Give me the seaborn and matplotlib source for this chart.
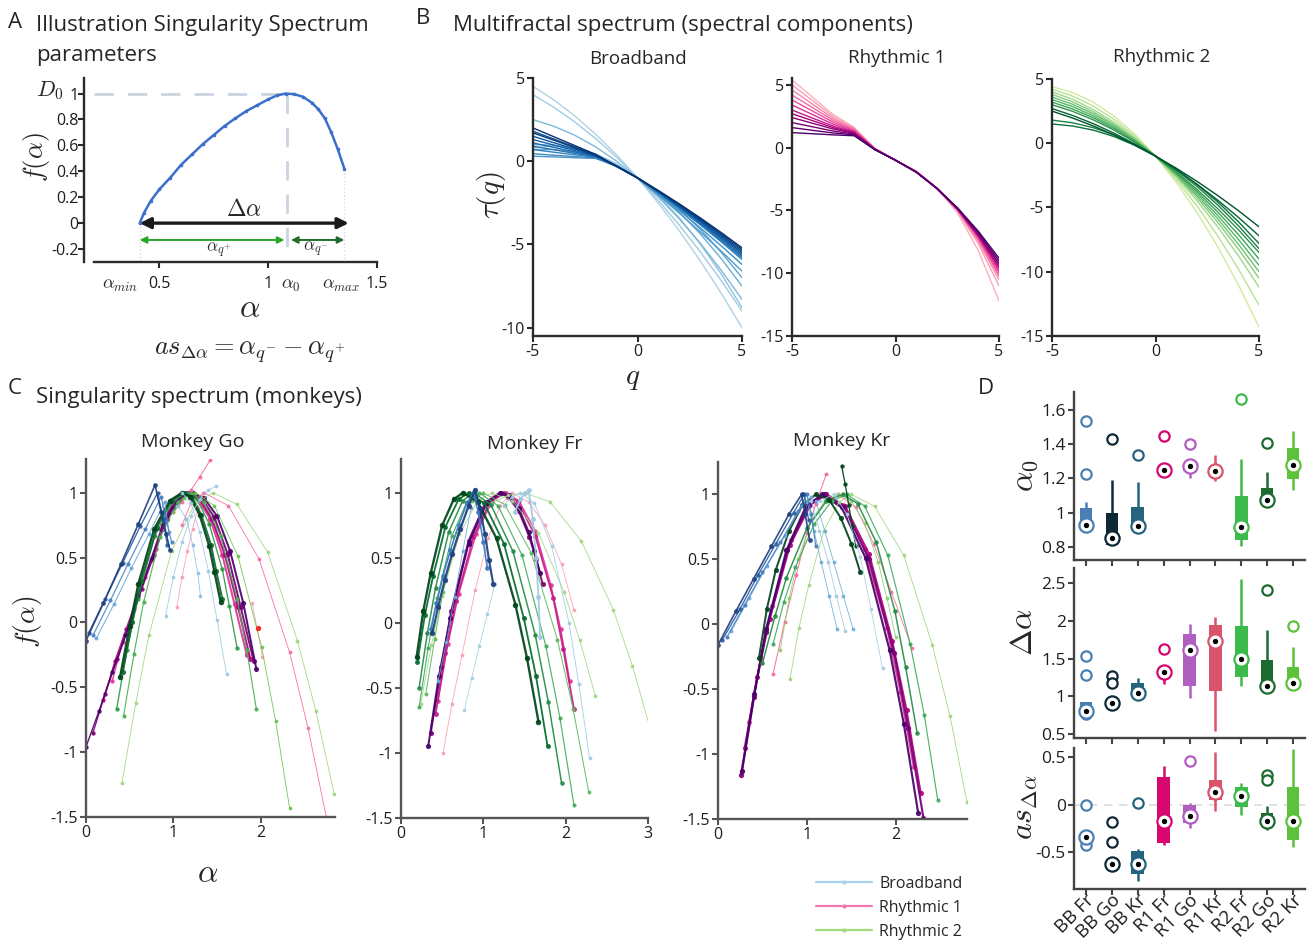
import numpy as np
import matplotlib
matplotlib.use("Agg")
import matplotlib.pyplot as plt
import matplotlib.transforms as mtransforms
import seaborn as sns
from matplotlib.lines import Line2D

# ---------------------------------------------------------------- data
# Panel A: illustrative singularity spectrum
A_ALPHA = [0.41, 0.43, 0.46, 0.50, 0.55, 0.60, 0.65, 0.70, 0.75, 0.80, 0.85, 0.90,
           0.95, 1.00, 1.04, 1.08, 1.12, 1.16, 1.20, 1.23, 1.26, 1.29, 1.32, 1.35]
A_F = [0.0, 0.08, 0.17, 0.26, 0.35, 0.45, 0.53, 0.61, 0.68, 0.75, 0.81, 0.865,
       0.91, 0.955, 0.985, 1.0, 0.995, 0.975, 0.93, 0.88, 0.81, 0.70, 0.57, 0.42]
A_ALPHA_MIN = 0.41
A_ALPHA_0 = 1.085
A_ALPHA_MAX = 1.35
A_F_MAX_END = 0.42

# Panel B: tau(q) per spectral component
Q_GRID = [-5, -4, -3, -2, -1, 0, 1, 2, 3, 4, 5]
TAU_BROADBAND = [
    [4.5, 3.68, 2.72, 1.62, 0.38, -1, -2.52, -4.18, -5.98, -7.92, -10.0],
    [4.0, 3.24, 2.36, 1.36, 0.24, -1, -2.36, -3.84, -5.44, -7.16, -9.0],
    [0.8, 0.92, 0.80, 0.44, -0.16, -1, -2.08, -3.40, -4.96, -6.76, -8.8],
    [2.5, 2.10, 1.56, 0.86, 0.0, -1, -2.16, -3.46, -4.92, -6.54, -8.3],
    [1.0, 0.96, 0.74, 0.34, -0.24, -1, -1.94, -3.06, -4.36, -5.84, -7.5],
    [0.7, 0.70, 0.54, 0.20, -0.32, -1, -1.86, -2.88, -4.08, -5.46, -7.0],
    [0.3, 0.26, 0.21, 0.17, -0.3, -1, -2.04, -3.12, -4.24, -5.40, -6.6],
    [0.45, 0.36, 0.28, 0.19, -0.3, -1, -1.96, -2.96, -4.0, -5.08, -6.2],
    [0.7, 0.54, 0.39, 0.23, -0.3, -1, -1.90, -2.84, -3.82, -4.84, -5.9],
    [0.9, 0.69, 0.47, 0.26, -0.3, -1, -1.88, -2.80, -3.76, -4.76, -5.8],
    [1.1, 0.83, 0.56, 0.29, -0.3, -1, -1.86, -2.76, -3.70, -4.68, -5.7],
    [1.3, 0.97, 0.64, 0.31, -0.3, -1, -1.84, -2.72, -3.64, -4.60, -5.6],
    [1.5, 1.11, 0.73, 0.34, -0.3, -1, -1.82, -2.68, -3.58, -4.52, -5.5],
    [1.8, 1.33, 0.86, 0.39, -0.3, -1, -1.80, -2.64, -3.52, -4.44, -5.4],
    [1.7, 1.26, 0.81, 0.37, -0.3, -1, -1.78, -2.60, -3.46, -4.36, -5.3],
    [2.0, 1.47, 0.94, 0.41, -0.3, -1, -1.76, -2.56, -3.40, -4.28, -5.2],
]
TAU_RHYTHMIC1 = [
    [5.4, 4.01, 2.63, 1.62, -0.05, -1, -1.85, -3.20, -5.20, -8.20, -12.2],
    [5.0, 3.74, 2.48, 1.56, -0.06, -1, -1.88, -3.22, -5.06, -7.66, -11.0],
    [4.6, 3.46, 2.32, 1.49, -0.07, -1, -1.90, -3.23, -5.00, -7.43, -10.5],
    [4.2, 3.18, 2.17, 1.43, -0.08, -1, -1.91, -3.23, -4.96, -7.29, -10.2],
    [3.8, 2.91, 2.02, 1.36, -0.09, -1, -1.92, -3.23, -4.94, -7.19, -10.0],
    [3.4, 2.63, 1.86, 1.30, -0.10, -1, -1.92, -3.24, -4.92, -7.10, -9.8],
    [3.0, 2.35, 1.71, 1.24, -0.11, -1, -1.93, -3.24, -4.90, -7.02, -9.6],
    [2.7, 2.15, 1.59, 1.19, -0.12, -1, -1.93, -3.24, -4.88, -6.98, -9.5],
    [2.4, 1.94, 1.48, 1.14, -0.13, -1, -1.94, -3.24, -4.86, -6.88, -9.3],
    [2.0, 1.66, 1.32, 1.08, -0.14, -1, -1.94, -3.24, -4.85, -6.84, -9.2],
    [1.6, 1.38, 1.17, 1.02, -0.15, -1, -1.94, -3.25, -4.82, -6.74, -9.0],
    [1.2, 1.11, 1.02, 0.95, -0.16, -1, -1.95, -3.25, -4.80, -6.65, -8.8],
]
TAU_RHYTHMIC2 = [
    [4.4, 3.95, 3.19, 2.11, 0.71, -1, -3.03, -5.37, -8.03, -11.01, -14.3],
    [4.2, 3.67, 2.89, 1.85, 0.55, -1, -2.81, -4.87, -7.19, -9.77, -12.6],
    [4.0, 3.42, 2.62, 1.62, 0.42, -1, -2.62, -4.46, -6.50, -8.74, -11.2],
    [3.8, 3.22, 2.44, 1.48, 0.34, -1, -2.52, -4.24, -6.14, -8.22, -10.5],
    [3.6, 3.03, 2.29, 1.37, 0.27, -1, -2.45, -4.07, -5.87, -7.85, -10.0],
    [3.4, 2.85, 2.13, 1.25, 0.21, -1, -2.37, -3.91, -5.61, -7.47, -9.5],
    [3.2, 2.66, 1.98, 1.14, 0.14, -1, -2.30, -3.74, -5.34, -7.10, -9.0],
    [3.0, 2.48, 1.82, 1.02, 0.08, -1, -2.22, -3.58, -5.08, -6.72, -8.5],
    [1.8, 1.59, 1.21, 0.65, -0.09, -1, -2.09, -3.35, -4.79, -6.41, -8.2],
    [1.5, 1.34, 1.02, 0.52, -0.16, -1, -2.02, -3.20, -4.56, -6.10, -7.8],
    [2.7, 2.16, 1.52, 0.78, -0.06, -1, -2.04, -3.18, -4.42, -5.76, -7.2],
    [2.5, 1.96, 1.34, 0.64, -0.14, -1, -1.94, -2.96, -4.06, -5.24, -6.5],
]

# Panel C: singularity spectra, one list of curves per monkey
GO_ALPHA = [
    [0.86, 0.93, 1.0, 1.08, 1.15, 1.28, 1.42, 1.56, 1.70, 1.84],
    [0.88, 0.95, 1.03, 1.10, 1.17, 1.30, 1.44, 1.59, 1.74, 1.88],
    [0.90, 0.97, 1.05, 1.12, 1.19, 1.32, 1.47, 1.62, 1.77, 1.92],
    [0.93, 1.0, 1.08, 1.15, 1.22, 1.35, 1.50, 1.65, 1.80, 1.95],
    [0.3, 0.42, 0.55, 0.68, 0.80, 0.92],
    [0.2, 0.33, 0.46, 0.60, 0.74, 0.88],
    [0.08, 0.22, 0.36, 0.50, 0.64, 0.78, 0.92],
    [0.0, 0.15, 0.30, 0.45, 0.60, 0.75, 0.90],
    [1.0, 1.1, 1.2, 1.3, 1.42],
    [1.04, 1.10, 1.16, 1.22, 1.28, 1.34],
    [1.1, 1.2, 1.35, 1.63, 1.98, 2.33, 2.54, 2.75],
    [1.9, 1.96, 2.02],
    [0.41, 0.57, 0.72, 0.98, 1.24, 1.45, 1.73, 2.08, 2.42, 2.63, 2.84],
    [1.0, 1.12, 1.25, 1.47, 1.74, 2.01, 2.17, 2.33],
    [0.43, 0.55, 0.66, 0.85, 1.05, 1.20, 1.35, 1.54, 1.73, 1.84, 1.95],
    [0.35, 0.47, 0.59, 0.79, 0.99, 1.15, 1.27, 1.41, 1.56, 1.64, 1.73],
    [0.42, 0.53, 0.63, 0.81, 0.98, 1.12, 1.21, 1.32, 1.43, 1.49, 1.56],
    [0.39, 0.50, 0.60, 0.78, 0.96, 1.10, 1.19, 1.30, 1.41, 1.47, 1.54],
    [0.91, 1.0, 1.1, 1.2, 1.3, 1.4, 1.49],
    [1.1, 1.2, 1.3, 1.4, 1.5, 1.61],
    [1.05, 1.15, 1.22, 1.28, 1.31],
    [0.12, 0.32, 0.52, 0.72, 0.90, 0.95],
    [0.08, 0.28, 0.48, 0.68, 0.86, 0.92, 0.98],
    [0.03, 0.22, 0.42, 0.62, 0.82, 0.88, 0.93],
    [0.0, 0.2, 0.4, 0.6, 0.79, 0.86, 0.92, 0.96],
]
GO_F = [
    [0.72, 0.83, 0.92, 0.98, 1.0, 0.95, 0.80, 0.52, 0.14, -0.25],
    [0.75, 0.85, 0.93, 0.98, 1.0, 0.95, 0.80, 0.52, 0.12, -0.28],
    [0.78, 0.87, 0.94, 0.99, 1.0, 0.96, 0.81, 0.53, 0.12, -0.30],
    [0.80, 0.88, 0.95, 0.99, 1.0, 0.96, 0.82, 0.55, 0.15, -0.36],
    [-0.45, -0.15, 0.10, 0.35, 0.57, 0.78],
    [-0.60, -0.30, -0.05, 0.22, 0.48, 0.72],
    [-0.85, -0.55, -0.28, -0.02, 0.26, 0.52, 0.80],
    [-0.96, -0.68, -0.38, -0.10, 0.20, 0.50, 0.80],
    [0.85, 0.93, 1.02, 1.12, 1.25],
    [0.12, 0.35, 0.55, 0.72, 0.88, 1.0],
    [0.75, 0.92, 1.0, 0.90, 0.49, -0.23, -0.81, -1.5],
    [0.15, -0.05, -0.27],
    [-1.24, -0.62, -0.10, 0.55, 0.91, 1.0, 0.91, 0.54, -0.14, -0.68, -1.32],
    [0.85, 0.96, 1.0, 0.90, 0.51, -0.19, -0.76, -1.43],
    [-0.72, -0.24, 0.16, 0.66, 0.93, 1.0, 0.93, 0.67, 0.18, -0.21, -0.67],
    [-0.67, -0.21, 0.18, 0.67, 0.93, 1.0, 0.95, 0.76, 0.41, 0.13, -0.20],
    [-0.38, 0.0, 0.32, 0.73, 0.94, 1.0, 0.97, 0.83, 0.60, 0.40, 0.18],
    [-0.42, -0.03, 0.30, 0.72, 0.94, 1.0, 0.97, 0.83, 0.59, 0.39, 0.16],
    [0.05, 0.35, 0.62, 0.82, 0.95, 1.02, 1.05],
    [1.0, 0.92, 0.70, 0.40, 0.02, -0.40],
    [0.90, 0.80, 0.60, 0.38, 0.20],
    [-0.12, 0.14, 0.42, 0.68, 0.93, 0.70],
    [-0.10, 0.17, 0.45, 0.72, 0.97, 0.78, 0.62],
    [-0.08, 0.18, 0.46, 0.74, 1.0, 0.80, 0.60],
    [-0.14, 0.15, 0.45, 0.76, 1.06, 0.85, 0.68, 0.56],
]
GO_RED_POINT = (1.97, -0.04)

FR_ALPHA = [
    [0.51, 0.62, 0.74, 0.90, 1.06, 1.20, 1.35, 1.55, 1.75, 1.95, 2.10],
    [0.45, 0.57, 0.70, 0.91, 1.11, 1.28, 1.43, 1.63, 1.82, 1.94, 2.05],
    [0.42, 0.54, 0.67, 0.88, 1.08, 1.25, 1.42, 1.63, 1.85, 1.97, 2.10],
    [0.36, 0.49, 0.61, 0.82, 1.03, 1.20, 1.30, 1.43, 1.56, 1.64, 1.72],
    [0.33, 0.46, 0.60, 0.82, 1.04, 1.22, 1.31, 1.43, 1.55, 1.62, 1.69],
    [1.1, 1.3, 1.5, 1.81, 2.19, 2.58, 2.81, 3.04],
    [0.24, 0.37, 0.50, 0.71, 0.93, 1.10, 1.35, 1.67, 1.98, 2.17, 2.36],
    [0.30, 0.41, 0.51, 0.69, 0.86, 1.00, 1.26, 1.58, 1.90, 2.09, 2.28],
    [0.22, 0.33, 0.44, 0.62, 0.80, 0.95, 1.18, 1.47, 1.76, 1.93, 2.10],
    [0.22, 0.32, 0.42, 0.58, 0.75, 0.88, 1.09, 1.36, 1.63, 1.79, 1.95],
    [0.20, 0.29, 0.39, 0.54, 0.70, 0.82, 1.01, 1.25, 1.49, 1.64, 1.78],
    [0.19, 0.27, 0.36, 0.50, 0.64, 0.75, 0.93, 1.16, 1.39, 1.53, 1.67],
    [1.25, 1.35, 1.45, 1.62, 1.83, 2.04, 2.16, 2.29],
    [1.38, 1.45, 1.51, 1.55, 1.60, 1.64, 1.67, 1.69],
    [0.77, 0.86, 0.95, 1.05, 1.14],
    [0.45, 0.55, 0.65, 0.75, 0.85],
    [0.36, 0.43, 0.51, 0.60, 0.70, 0.80, 0.88, 0.94, 1.00, 1.05],
    [0.38, 0.45, 0.53, 0.62, 0.72, 0.82, 0.90, 0.96, 1.02, 1.07, 1.12],
]
FR_F = [
    [-1.0, -0.62, -0.25, 0.25, 0.65, 0.90, 1.0, 0.93, 0.75, 0.45, 0.10],
    [-0.60, -0.16, 0.22, 0.68, 0.94, 1.0, 0.94, 0.71, 0.29, -0.05, -0.45],
    [-0.70, -0.23, 0.17, 0.66, 0.93, 1.0, 0.93, 0.67, 0.19, -0.20, -0.66],
    [-0.85, -0.34, 0.09, 0.63, 0.93, 1.0, 0.97, 0.86, 0.66, 0.49, 0.30],
    [-0.95, -0.41, 0.04, 0.61, 0.92, 1.0, 0.98, 0.88, 0.70, 0.55, 0.38],
    [0.92, 0.98, 1.0, 0.93, 0.63, 0.10, -0.33, -0.84],
    [-0.62, -0.17, 0.21, 0.68, 0.94, 1.0, 0.94, 0.69, 0.24, -0.13, -0.56],
    [-0.55, -0.12, 0.24, 0.69, 0.94, 1.0, 0.91, 0.54, -0.13, -0.66, -1.30],
    [-0.65, -0.19, 0.19, 0.67, 0.93, 1.0, 0.90, 0.52, -0.18, -0.73, -1.40],
    [-0.50, -0.08, 0.27, 0.70, 0.94, 1.0, 0.91, 0.55, -0.09, -0.61, -1.23],
    [-0.30, 0.06, 0.36, 0.74, 0.95, 1.0, 0.92, 0.61, 0.04, -0.41, -0.95],
    [-0.26, 0.09, 0.38, 0.75, 0.95, 1.0, 0.93, 0.65, 0.14, -0.27, -0.76],
    [0.90, 0.97, 1.0, 0.92, 0.59, 0.0, -0.47, -1.04],
    [0.85, 0.95, 1.0, 1.02, 0.80, 0.50, 0.20, -0.11],
    [-0.67, -0.42, -0.18, 0.07, 0.30],
    [-0.45, -0.15, 0.20, 0.55, 0.88],
    [-0.05, 0.15, 0.36, 0.56, 0.75, 0.92, 1.0, 0.85, 0.62, 0.42],
    [-0.08, 0.12, 0.33, 0.53, 0.72, 0.90, 1.02, 0.88, 0.68, 0.48, 0.30],
]

KR_ALPHA = [
    [0.62, 0.75, 0.88, 1.0, 1.1, 1.22],
    [1.35, 1.55, 1.75, 1.95, 2.18],
    [0.35, 0.48, 0.61, 0.82, 1.03, 1.20, 1.40, 1.65, 1.90, 2.05, 2.20],
    [0.30, 0.44, 0.58, 0.81, 1.04, 1.22, 1.43, 1.70, 1.96, 2.12, 2.28],
    [0.26, 0.40, 0.54, 0.78, 1.01, 1.20, 1.42, 1.70, 1.98, 2.14, 2.31],
    [0.27, 0.41, 0.54, 0.77, 0.99, 1.17, 1.39, 1.66, 1.93, 2.09, 2.25],
    [0.81, 0.91, 1.02, 1.19, 1.36, 1.50, 1.76, 2.09, 2.41, 2.61, 2.80],
    [0.70, 0.80, 0.90, 1.05, 1.20, 1.35, 1.50, 1.65, 1.80, 1.90, 2.00],
    [0.62, 0.74, 0.87, 1.08, 1.28, 1.45, 1.65, 1.91, 2.16, 2.32, 2.47],
    [0.50, 0.64, 0.77, 1.00, 1.22, 1.40, 1.57, 1.78, 1.99, 2.11, 2.24],
    [0.46, 0.55, 0.65, 0.80, 0.95, 1.10, 1.25, 1.38, 1.50, 1.60],
    [1.39, 1.43, 1.47, 1.51, 1.55],
    [1.15, 1.30, 1.45, 1.60, 1.72, 1.85],
    [1.10, 1.20, 1.30, 1.41, 1.52],
    [1.05, 1.14, 1.24, 1.33, 1.43],
    [1.00, 1.08, 1.16, 1.25, 1.34],
    [0.15, 0.35, 0.55, 0.75, 0.95, 1.05],
    [0.10, 0.30, 0.50, 0.70, 0.90, 1.00, 1.05, 1.10],
    [0.05, 0.25, 0.45, 0.65, 0.85, 0.97, 1.02],
    [0.0, 0.2, 0.4, 0.6, 0.8, 0.94, 0.98, 1.03],
]
KR_F = [
    [-0.38, 0.02, 0.38, 0.70, 0.93, 1.16],
    [1.0, 0.90, 0.62, 0.25, -0.18],
    [-0.75, -0.26, 0.14, 0.65, 0.93, 1.0, 0.92, 0.58, -0.03, -0.52, -1.10],
    [-0.95, -0.41, 0.04, 0.61, 0.92, 1.0, 0.91, 0.54, -0.13, -0.66, -1.30],
    [-1.16, -0.56, -0.06, 0.57, 0.91, 1.0, 0.90, 0.50, -0.22, -0.80, -1.49],
    [-1.13, -0.54, -0.04, 0.57, 0.91, 1.0, 0.90, 0.51, -0.20, -0.77, -1.45],
    [-0.42, -0.03, 0.30, 0.72, 0.94, 1.0, 0.91, 0.53, -0.16, -0.71, -1.37],
    [-0.20, 0.20, 0.50, 0.80, 0.95, 1.0, 0.95, 0.78, 0.48, 0.20, -0.10],
    [-0.15, 0.17, 0.44, 0.77, 0.95, 1.0, 0.91, 0.53, -0.15, -0.70, -1.35],
    [-0.30, 0.06, 0.36, 0.74, 0.95, 1.0, 0.93, 0.63, 0.10, -0.33, -0.84],
    [-0.26, 0.12, 0.42, 0.72, 0.92, 1.0, 0.96, 0.82, 0.62, 0.40],
    [1.22, 1.08, 0.92, 0.76, 0.60],
    [0.95, 1.0, 0.85, 0.52, 0.12, -0.34],
    [0.95, 0.72, 0.48, 0.22, -0.04],
    [0.95, 0.72, 0.48, 0.22, -0.05],
    [0.95, 0.72, 0.48, 0.22, -0.04],
    [-0.05, 0.20, 0.45, 0.68, 0.92, 0.98],
    [-0.10, 0.15, 0.40, 0.63, 0.87, 1.0, 0.85, 0.60],
    [-0.12, 0.12, 0.38, 0.62, 0.86, 1.0, 0.80],
    [-0.16, 0.10, 0.35, 0.60, 0.85, 1.0, 0.85, 0.65],
]

# Panel D: box summaries per component / monkey
CATEGORIES = ["BB Fr", "BB Go", "BB Kr", "R1 Fr", "R1 Go", "R1 Kr", "R2 Fr", "R2 Go", "R2 Kr"]

ALPHA0_Q1 = [0.92, 0.81, 0.92, 1.245, 1.245, 1.21, 0.84, 1.075, 1.195]
ALPHA0_MED = [0.93, 0.85, 0.925, 1.25, 1.275, 1.245, 0.915, 1.075, 1.28]
ALPHA0_Q3 = [1.03, 1.00, 1.035, 1.255, 1.29, 1.27, 1.095, 1.145, 1.38]
ALPHA0_WLO = [0.92, 0.81, 0.92, 1.245, 1.20, 1.185, 0.805, 1.075, 1.135]
ALPHA0_WHI = [1.065, 1.19, 1.18, 1.255, 1.29, 1.335, 1.315, 1.24, 1.48]
ALPHA0_OUT = [[1.536, 1.227], [1.43], [1.338], [1.45], [1.40], [], [1.665], [1.41], []]

DALPHA_Q1 = [0.79, 0.88, 1.04, 1.30, 1.14, 1.07, 1.25, 1.13, 1.18]
DALPHA_MED = [0.81, 0.905, 1.043, 1.326, 1.617, 1.73, 1.50, 1.13, 1.18]
DALPHA_Q3 = [0.92, 0.93, 1.18, 1.36, 1.83, 1.95, 1.935, 1.48, 1.39]
DALPHA_WLO = [0.79, 0.88, 1.04, 1.165, 0.98, 0.54, 1.13, 1.13, 1.095]
DALPHA_WHI = [0.93, 0.98, 1.24, 1.36, 1.957, 2.05, 2.56, 1.88, 1.65]
DALPHA_OUT = [[1.53, 1.28, 0.77], [1.27, 1.18], [], [1.63], [], [], [], [2.41], [1.935]]

ASYM_Q1 = [-0.36, -0.62, -0.73, -0.40, -0.19, 0.045, -0.025, -0.19, -0.375]
ASYM_MED = [-0.34, -0.62, -0.62, -0.175, -0.115, 0.13, 0.094, -0.175, -0.168]
ASYM_Q3 = [-0.33, -0.62, -0.49, 0.29, 0.0, 0.255, 0.185, -0.087, 0.18]
ASYM_WLO = [-0.36, -0.62, -0.80, -0.42, -0.245, -0.07, -0.105, -0.27, -0.444]
ASYM_WHI = [-0.33, -0.62, -0.465, 0.41, 0.02, 0.55, 0.227, -0.017, 0.584]
ASYM_OUT = [[0.0, -0.42], [-0.18, -0.39], [0.02], [], [0.455], [], [], [0.315, 0.255], []]

# ---------------------------------------------------------------- styles
GO_COLORS = ["#dd3497", "#ae017e", "#7a0177", "#49006a",
             "#dd3497", "#ae017e", "#7a0177", "#49006a",
             "#f768a1", "#fa9fb5", "#f768a1", "#fa9fb5",
             "#9fd67d", "#6cc24a", "#4cb050", "#2e9a46", "#0b6b2e", "#00441b",
             "#9ecae1", "#9ecae1", "#8cc0e0",
             "#6aa6d8", "#4682c4", "#2b5d9e", "#1f3f7f"]
GO_WIDTHS = [2.4, 2.4, 2.4, 2.4, 1.6, 1.6, 1.6, 1.6, 1.2, 1.0, 1.0, 1.0,
             1.0, 1.0, 1.4, 1.6, 2.4, 2.8, 1.0, 1.0, 1.0, 1.2, 1.4, 1.6, 2.0]
FR_COLORS = ["#fa9fb5", "#dd3497", "#c51b8a", "#7a0177", "#49006a",
             "#a1d784", "#a1d784", "#5cb85c", "#41ab5d", "#238b45", "#006d2c", "#00441b",
             "#9ecae1", "#9ecae1", "#a6cee3", "#6baed6", "#3a78c0", "#1f3f7f"]
FR_WIDTHS = [1.0, 1.8, 2.2, 2.4, 2.4, 1.0, 1.0, 1.2, 1.4, 1.8, 2.2, 2.8,
             1.0, 2.2, 1.0, 1.0, 2.0, 2.6]
KR_COLORS = ["#f768a1", "#f768a1", "#dd3497", "#ae017e", "#7a0177", "#49006a",
             "#9fd67d", "#8ccf6b", "#41ab5d", "#238b45", "#00441b", "#00441b",
             "#a6cee3", "#6baed6", "#9ecae1", "#6baed6",
             "#6aa6d8", "#4682c4", "#2b5d9e", "#1f3f7f"]
KR_WIDTHS = [1.2, 1.0, 2.2, 2.4, 2.6, 2.6, 1.0, 1.0, 1.4, 1.8, 2.4, 1.6,
             1.0, 1.0, 1.0, 1.0, 1.2, 1.4, 1.6, 2.0]
BOX_COLORS = ["#4a7fb5", "#0e2836", "#25637f", "#d6076f", "#b05ec0",
              "#d9536a", "#3dba4c", "#1d6b30", "#5bc23a"]

# ---------------------------------------------------------------- figure
sns.set_theme(style="ticks")
plt.rcParams["font.family"] = ["Open Sans", "DejaVu Sans"]
plt.rcParams["mathtext.fontset"] = "cm"
plt.rcParams["axes.unicode_minus"] = False

W, H = 1314, 942
fig = plt.figure(figsize=(W / 100, H / 100), dpi=100)
fig.patch.set_facecolor("white")


def px_axes(l, t, r, b):
    return fig.add_axes([l / W, 1 - b / H, (r - l) / W, (b - t) / H])


def ftext(x, y, s, **kw):
    kw.setdefault("ha", "center")
    kw.setdefault("va", "center")
    fig.text(x / W, 1 - y / H, s, **kw)


def style(ax, color="#2a2a2a", size=11.5):
    sns.despine(ax=ax)
    ax.set_facecolor("white")
    for side in ("left", "bottom"):
        ax.spines[side].set_color(color)
        ax.spines[side].set_linewidth(1.7)
    ax.tick_params(direction="out", length=4, width=1.5, color=color,
                   labelsize=size, labelcolor="#1e1e1e", pad=2)
    ax.grid(False)


HEAD = 16

# ---------------- panel A
axA = px_axes(94, 78, 377, 262)
style(axA)
axA.spines["left"].set_position(("outward", 7))
axA.set_xlim(0.2, 1.5)
axA.set_ylim(-0.3, 1.12)
axA.set_yticks([-0.2, 0, 0.2, 0.4, 0.6, 0.8, 1])
axA.set_yticklabels(["-0.2", "0", "0.2", "0.4", "0.6", "0.8", "1"])
axA.set_xticks([0.5, 1, 1.5])
axA.set_xticklabels(["0.5", "1", "1.5"])
axA.tick_params(axis="x", pad=6)
axA.tick_params(axis="y", pad=0)

dash_c = "#c9d5e1"
axA.plot([0.2, A_ALPHA_0], [1.0, 1.0], color=dash_c, lw=2, dashes=(7, 5), zorder=1)
axA.plot([A_ALPHA_0, A_ALPHA_0], [1.0, -0.3], color=dash_c, lw=2, dashes=(7, 5), zorder=1)
axA.plot([A_ALPHA_MIN, A_ALPHA_MIN], [0, -0.3], color="#d5dbe2", lw=1, ls=":", zorder=1)
axA.plot([A_ALPHA_MAX, A_ALPHA_MAX], [A_F_MAX_END, -0.3], color="#d5dbe2", lw=1, ls=":", zorder=1)
sns.lineplot(x=A_ALPHA, y=A_F, ax=axA, color="#3a6fcb", lw=1.8, marker="o",
             markersize=2.6, markeredgewidth=0, sort=False, estimator=None, zorder=3)

axA.annotate("", xy=(A_ALPHA_MAX + 0.02, 0), xytext=(A_ALPHA_MIN, 0),
             arrowprops=dict(arrowstyle="<|-|>", color="#1a1a1a", lw=2.4,
                             mutation_scale=16, shrinkA=0, shrinkB=0), zorder=4)
axA.annotate("", xy=(A_ALPHA_0 - 0.01, -0.13), xytext=(A_ALPHA_MIN, -0.13),
             arrowprops=dict(arrowstyle="<|-|>", color="#2aa52a", lw=1.4,
                             mutation_scale=10, shrinkA=0, shrinkB=0))
axA.annotate("", xy=(A_ALPHA_MAX, -0.13), xytext=(A_ALPHA_0 + 0.02, -0.13),
             arrowprops=dict(arrowstyle="<|-|>", color="#1f6e2b", lw=1.4,
                             mutation_scale=10, shrinkA=0, shrinkB=0))
axA.text(0.89, 0.1, r"$\Delta\alpha$", fontsize=17, ha="center", va="center")
axA.text(0.775, -0.21, r"$\alpha_{q^{+}}$", fontsize=12.5, ha="center", va="center", color="#333")
axA.text(1.22, -0.2, r"$\alpha_{q^{-}}$", fontsize=12.5, ha="center", va="center", color="#333")

ftext(120, 285, r"$\alpha_{min}$", fontsize=13)
ftext(291, 285, r"$\alpha_0$", fontsize=13)
ftext(341, 285, r"$\alpha_{max}$", fontsize=13)
ftext(50, 91, r"$D_0$", fontsize=16)
ftext(36, 157, r"$f(\alpha)$", fontsize=19, rotation=90)
ftext(250, 309, r"$\alpha$", fontsize=23)
ftext(250, 352, r"$as_{\Delta\alpha} = \alpha_{q^{-}} - \alpha_{q^{+}}$", fontsize=19)

ftext(15, 22, "A", fontsize=HEAD)
ftext(36, 25, "Illustration Singularity Spectrum", fontsize=HEAD, ha="left")
ftext(36, 56, "parameters", fontsize=HEAD, ha="left")

# ---------------- panel B
b_boxes = [(533, 78, 742, 336), (792, 78, 999, 336), (1052, 79, 1259, 336)]
b_ylims = [(-10.5, 5.0), (-15.0, 5.55), (-15.0, 5.0)]
b_yticks = [[-10, -5, 0, 5], [-15, -10, -5, 0, 5], [-15, -10, -5, 0, 5]]
b_titles = [("Broadband", 638, 59), ("Rhythmic 1", 897, 58), ("Rhythmic 2", 1162, 57)]
b_sets = [(TAU_BROADBAND, "Blues", 0.32, 1.0),
          (TAU_RHYTHMIC1, "RdPu", 0.32, 1.0),
          (TAU_RHYTHMIC2, "YlGn", 0.28, 0.95)]
for box, ylim, yt, (title, tx, ty), (curves, cmap_name, lo, hi) in zip(
        b_boxes, b_ylims, b_yticks, b_titles, b_sets):
    ax = px_axes(*box)
    style(ax)
    cmap = plt.get_cmap(cmap_name)
    shades = [cmap(v) for v in np.linspace(lo, hi, len(curves))]
    for tau, c in zip(curves, shades):
        sns.lineplot(x=Q_GRID, y=tau, ax=ax, color=c, lw=1.0, sort=False, estimator=None)
    ax.set_xlim(-5, 5)
    ax.set_ylim(*ylim)
    ax.set_xticks([-5, 0, 5])
    ax.set_xticklabels(["-5", "0", "5"])
    ax.set_yticks(yt)
    ax.set_yticklabels([str(v) for v in yt])
    ax.set_xlabel("")
    ax.set_ylabel("")
    ftext(tx, ty, title, fontsize=13.5)

ftext(492, 195, r"$\tau(q)$", fontsize=21, rotation=90)
ftext(633, 377, r"$q$", fontsize=21)
ftext(423, 18, "B", fontsize=HEAD)
ftext(453, 25, "Multifractal spectrum (spectral components)", fontsize=HEAD, ha="left")

# ---------------- panel C
c_boxes = [(86, 459, 335, 817), (401, 459, 648, 818), (718, 462, 967, 819)]
c_xlims = [(0, 2.85), (0, 3.0), (0, 2.8)]
c_xticks = [[0, 1, 2], [0, 1, 2, 3], [0, 1, 2]]
c_ylims = [(-1.5, 1.26), (-1.5, 1.26), (-1.5, 1.25)]
c_titles = [("Monkey Go", 193, 442), ("Monkey Fr", 535, 444), ("Monkey Kr", 842, 441)]
c_data = [(GO_ALPHA, GO_F, GO_COLORS, GO_WIDTHS),
          (FR_ALPHA, FR_F, FR_COLORS, FR_WIDTHS),
          (KR_ALPHA, KR_F, KR_COLORS, KR_WIDTHS)]
c_axes = []
for box, xl, xt, yl, (title, tx, ty), (alphas, fs, cols, wids) in zip(
        c_boxes, c_xlims, c_xticks, c_ylims, c_titles, c_data):
    ax = px_axes(*box)
    style(ax, color="#555555")
    for a, f, c, w in zip(alphas, fs, cols, wids):
        sns.lineplot(x=a, y=f, ax=ax, color=c, lw=w * 0.6, marker="o",
                     markersize=2.0 + w * 0.7, markeredgewidth=0, alpha=0.92,
                     sort=False, estimator=None)
    ax.set_xlim(*xl)
    ax.set_ylim(*yl)
    ax.set_xticks(xt)
    ax.set_xticklabels([str(v) for v in xt])
    ax.set_yticks([-1.5, -1, -0.5, 0, 0.5, 1])
    ax.set_yticklabels(["-1.5", "-1", "-0.5", "0", "0.5", "1"])
    ax.set_xlabel("")
    ax.set_ylabel("")
    ftext(tx, ty, title, fontsize=14)
    c_axes.append(ax)
c_axes[0].scatter([GO_RED_POINT[0]], [GO_RED_POINT[1]], s=8, color="#ff2a2a", zorder=5)

ftext(27, 622, r"$f(\alpha)$", fontsize=20, rotation=90)
ftext(208, 874, r"$\alpha$", fontsize=23)
ftext(15, 388, "C", fontsize=HEAD)
ftext(36, 397, "Singularity spectrum (monkeys)", fontsize=HEAD, ha="left")

legend_handles = [
    Line2D([], [], color="#a8d3ec", lw=1.6, marker="o", markersize=3, markeredgewidth=0),
    Line2D([], [], color="#f27ab3", lw=1.6, marker="o", markersize=3, markeredgewidth=0),
    Line2D([], [], color="#a4db7a", lw=1.6, marker="o", markersize=3, markeredgewidth=0),
]
fig.legend(legend_handles, ["Broadband", "Rhythmic 1", "Rhythmic 2"],
           loc="upper left", bbox_to_anchor=(816 / W, 1 - 876 / H), frameon=False,
           fontsize=11.5, handlelength=3.5, handletextpad=0.45, labelspacing=0.5,
           borderaxespad=0, borderpad=0)

# ---------------- panel D
d_boxes = [(1074, 392, 1305, 560), (1074, 568, 1305, 738), (1074, 748, 1305, 889)]
d_ylims = [(0.724, 1.705), (0.447, 2.70), (-0.885, 0.594)]
d_yticks = [([0.8, 1, 1.2, 1.4, 1.6], ["0.8", "1", "1.2", "1.4", "1.6"]),
            ([0.5, 1, 1.5, 2, 2.5], ["0.5", "1", "1.5", "2", "2.5"]),
            ([-0.5, 0, 0.5], ["-0.5", "0", "0.5"])]
d_stats = [(ALPHA0_Q1, ALPHA0_MED, ALPHA0_Q3, ALPHA0_WLO, ALPHA0_WHI, ALPHA0_OUT),
           (DALPHA_Q1, DALPHA_MED, DALPHA_Q3, DALPHA_WLO, DALPHA_WHI, DALPHA_OUT),
           (ASYM_Q1, ASYM_MED, ASYM_Q3, ASYM_WLO, ASYM_WHI, ASYM_OUT)]
d_labels = [(r"$\alpha_0$", 476), (r"$\Delta\alpha$", 632), (r"$as_{\Delta\alpha}$", 807)]
pos = np.arange(len(CATEGORIES))
for k, (box, yl, (yt, ytl), (q1, med, q3, wlo, whi, outl), (lab, ly)) in enumerate(
        zip(d_boxes, d_ylims, d_yticks, d_stats, d_labels)):
    ax = px_axes(*box)
    style(ax, color="#444444", size=12.5)
    if k == 2:
        ax.axhline(0, color="#dcdcdc", lw=1.2, ls=(0, (5, 4)), zorder=0)
    for i in pos:
        c = BOX_COLORS[i]
        ax.vlines(i, wlo[i], whi[i], color=c, lw=1.8, zorder=2)
        if q3[i] > q1[i]:
            ax.bar(i, q3[i] - q1[i], bottom=q1[i], width=0.48, color=c, lw=0, zorder=3)
        if outl[i]:
            ax.scatter([i] * len(outl[i]), outl[i], s=55, facecolors="white",
                       edgecolors=c, linewidths=1.6, zorder=4)
        ax.scatter([i], [med[i]], s=105, facecolors="white", edgecolors=c,
                   linewidths=1.6, zorder=5)
        ax.scatter([i], [med[i]], s=8, color="black", zorder=6)
    ax.set_xlim(-0.46, 8.46)
    ax.set_ylim(*yl)
    ax.set_yticks(yt)
    ax.set_yticklabels(ytl)
    ax.set_xticks(pos)
    if k == 2:
        ax.tick_params(axis="x", pad=0)
        ax.set_xticklabels(CATEGORIES, rotation=45, ha="right", va="center",
                           rotation_mode="anchor", fontsize=13.5)
        shift = mtransforms.ScaledTranslation(6 / 100, -3 / 100, fig.dpi_scale_trans)
        for lbl in ax.get_xticklabels():
            lbl.set_transform(lbl.get_transform() + shift)
    else:
        ax.set_xticklabels([])
    ftext(1024, ly, lab, fontsize=23, rotation=90)

ftext(986, 388, "D", fontsize=HEAD)

fig.savefig("out.png", dpi=100, facecolor="white")
